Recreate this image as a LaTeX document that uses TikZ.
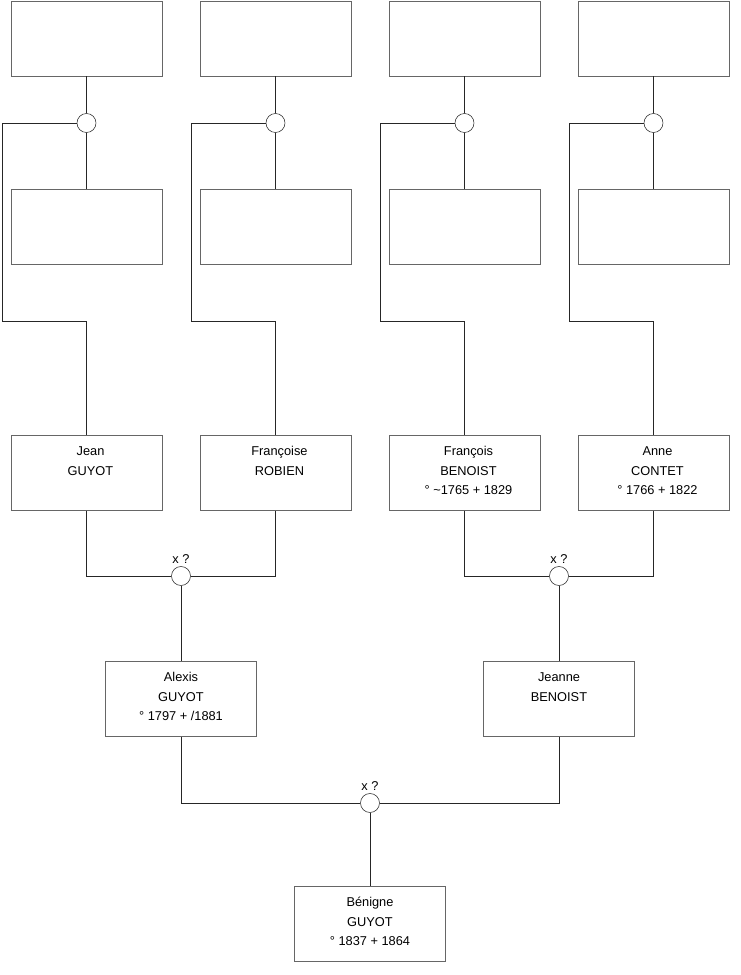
\documentclass[tikz,border=0pt]{standalone}
\usepackage{fontspec}
\setmainfont{Liberation Sans}
\usetikzlibrary{positioning}
\newcommand{\carte}[4][0pt]{\hspace*{#1}\strut#2\\\hspace*{#1}\strut#3\\\hspace*{#1}\rule[-7pt]{0pt}{10pt}#4}

\begin{document}
\begin{tikzpicture}[x=0.75pt,y=-0.75pt,font=\fontsize{9.6}{14.6}\selectfont]
\tikzset{fiche/.style={draw=black!60,fill=white,align=center,minimum width=113.25pt,minimum height=56.25pt,inner sep=0pt},
  noeud/.style={circle,draw=black!85,fill=white,minimum size=14.25pt,inner sep=0pt},
  mariage/.style={noeud,label={[inner sep=2pt]above:x ?}},
  lien/.style={draw=black!85}}
\useasboundingbox (0,0) rectangle (740,975);
% grands-parents
\node[fiche] (jean) at (86.5,473) {\carte[6pt]{Jean}{GUYOT}{}};
\node[fiche] (francoise) at (275.5,473) {\carte[6pt]{Françoise}{ROBIEN}{}};
\node[fiche] (francois) at (464.5,473) {\carte[6pt]{François}{BENOIST}{° \textasciitilde1765 + 1829}};
\node[fiche] (anne) at (653.5,473) {\carte[6pt]{Anne}{CONTET}{° 1766 + 1822}};
% parents
\node[mariage] (m1) at (181,576) {};
\node[mariage] (m2) at (559,576) {};
\node[fiche,below=56.6pt of m1] (alexis) {\carte{Alexis}{GUYOT}{° 1797 + /1881}};
\node[fiche,below=56.6pt of m2] (jeanne) {\carte{Jeanne}{BENOIST}{}};
\node[mariage] (m3) at (370,803) {};
\node[fiche,below=55pt of m3] (benigne) {\carte{Bénigne}{GUYOT}{° 1837 + 1864}};
% ascendants inconnus
\foreach \p/\x in {jean/86.5,francoise/275.5,francois/464.5,anne/653.5}{
  \node[fiche] (\p-pere) at (\x,38.5) {};
  \node[fiche] (\p-mere) at (\x,227) {};
  \node[noeud] (\p-u) at (\x,123) {};
  \draw[lien] (\p-pere) -- (\p-u) -- (\p-mere);
  \draw[lien] (\p-u.west) -| (\x-84.5,321) -| (\p.north);
}
\draw[lien] (jean) |- (m1) -| (francoise);
\draw[lien] (francois) |- (m2) -| (anne);
\draw[lien] (alexis) |- (m3) -| (jeanne);
\foreach \u/\e in {m1/alexis,m2/jeanne,m3/benigne}{\draw[lien] (\u) -- (\e);}
\end{tikzpicture}
\end{document}
